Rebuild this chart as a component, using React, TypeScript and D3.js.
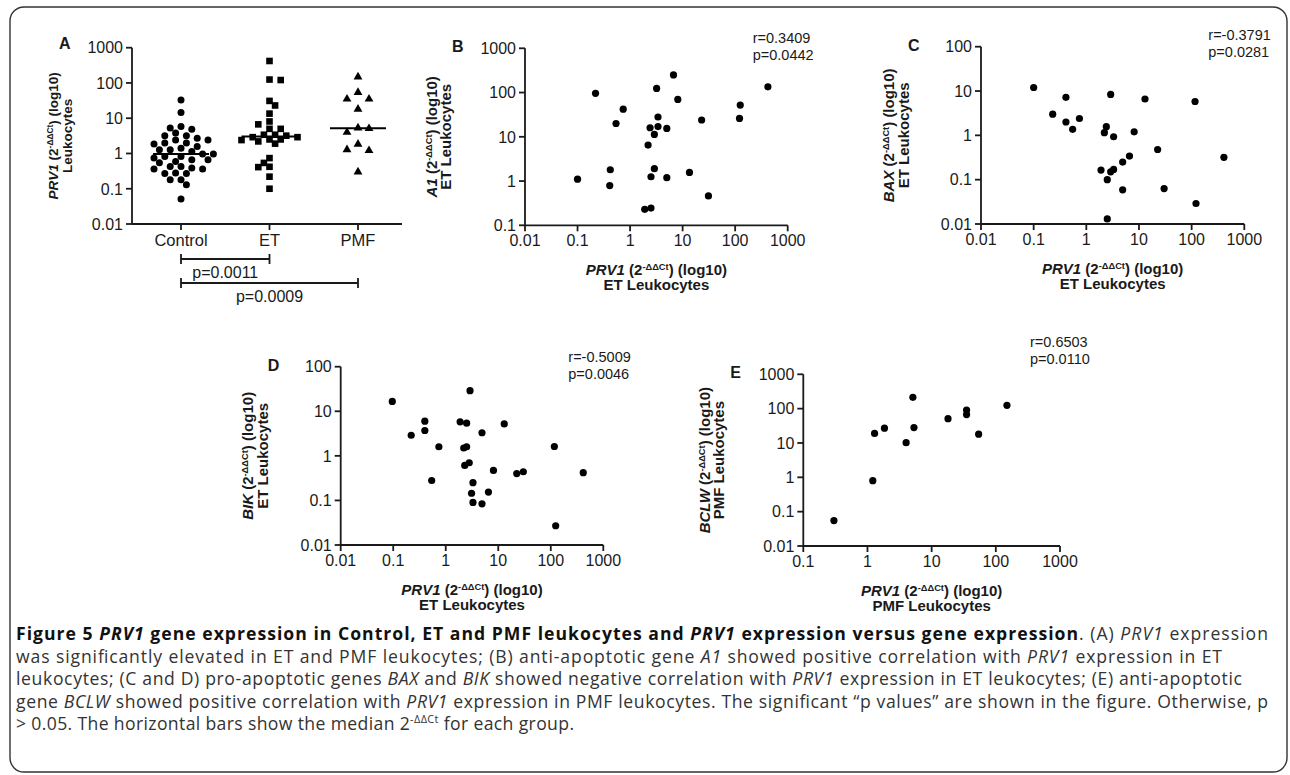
import React from "react";
import * as d3 from "d3";

// ---- data ----
const categories = ["Control", "ET", "PMF"];

const controlPrv1 = [
  33, 14.5, 5.8, 5.3, 4.9, 3.8, 3.2, 3.2, 2.7, 2.4, 2.4, 1.97, 1.97, 1.85, 1.58, 1.4, 1.27, 1.27, 1.14, 0.96,
  0.96, 0.82, 0.82, 0.75, 0.66, 0.66, 0.59, 0.55, 0.43, 0.43, 0.39, 0.36, 0.36, 0.28, 0.27, 0.27, 0.18, 0.18,
  0.13, 0.051,
];

// ET leukocytes: PRV1 vs A1
const bPrv1 = [0.1, 0.22, 0.42, 0.41, 0.54, 0.74, 1.9, 2.5, 2.2, 2.4, 2.9, 2.9, 2.5, 3.2, 3.4, 3.4, 5.0, 5.0, 6.7, 8.1, 13.5, 23, 31, 121, 125, 420];
const bA1 = [1.1, 96, 1.8, 0.79, 20, 42, 0.23, 0.245, 6.5, 16, 11.3, 1.9, 1.25, 124, 28, 17, 15.5, 1.19, 250, 70, 1.57, 24, 0.46, 26, 52, 135];

// ET leukocytes: PRV1 vs BAX
const cPrv1 = [0.1, 0.23, 0.41, 0.41, 0.55, 0.74, 1.9, 2.4, 2.2, 2.5, 2.5, 2.9, 2.9, 3.3, 3.3, 4.9, 4.9, 6.6, 8.1, 13, 22.6, 30, 116, 121, 410];
const cBax = [12, 3.0, 7.2, 2.0, 1.37, 2.4, 0.165, 1.57, 1.15, 0.1, 0.013, 8.4, 0.15, 0.93, 0.17, 0.25, 0.059, 0.34, 1.2, 6.6, 0.48, 0.063, 5.8, 0.029, 0.32];

// ET leukocytes: PRV1 vs BIK
const dPrv1 = [0.096, 0.22, 0.4, 0.4, 0.54, 0.74, 1.88, 2.5, 2.2, 2.5, 2.3, 2.8, 2.9, 3.3, 3.1, 3.3, 4.9, 4.9, 6.5, 8.1, 13, 22.5, 30, 117, 124, 415];
const dBik = [16.6, 2.9, 6.0, 3.7, 0.28, 1.6, 5.8, 5.4, 1.5, 1.6, 0.61, 0.7, 29, 0.25, 0.145, 0.09, 3.3, 0.084, 0.154, 0.47, 5.2, 0.4, 0.44, 1.62, 0.027, 0.42];

// PMF leukocytes: PRV1 vs BCLW
const ePrv1 = [0.3, 1.21, 1.29, 1.84, 4.0, 5.1, 5.3, 18, 35, 35, 54, 149];
const eBclw = [0.055, 0.8, 19, 27, 10.2, 214, 28, 51, 91, 67, 18, 125];

const columnValues = [controlPrv1, bPrv1, ePrv1];
const comparisons = [
  { from: "Control", to: "ET", label: "p=0.0011" },
  { from: "Control", to: "PMF", label: "p=0.0009" },
];

const ticks1000 = [0.1, 1, 10, 100, 1000];
const ticksA = [0.01, 0.1, 1, 10, 100, 1000];
const ticks100 = [0.01, 0.1, 1, 10, 100];

const FONT = "'Liberation Sans', Arial, sans-serif";
const INK = "#1a1a1a";
const AXW = 1.8;

// simple column scatter layout (Prism style): nearest free slot to the centre
function swarm(values: number[], y: (v: number) => number, diam: number, step: number) {
  const order = values.map((_, i) => i).sort((a, b) => values[b] - values[a]);
  const placed: { x: number; y: number }[] = [];
  const out: { dx: number; y: number }[] = new Array(values.length);
  order.forEach((i, n) => {
    const yy = y(values[i]);
    const sign = n % 2 === 0 ? 1 : -1;
    for (let k = 0; k < 60; k++) {
      const off = k === 0 ? 0 : (k % 2 === 1 ? sign : -sign) * Math.ceil(k / 2) * step;
      if (placed.every((p) => (p.x - off) ** 2 + (p.y - yy) ** 2 >= diam * diam)) {
        placed.push({ x: off, y: yy });
        out[i] = { dx: off, y: yy };
        break;
      }
    }
  });
  return out;
}

const Sup = () => (
  <tspan baselineShift="super" fontSize="62%">-ΔΔCt</tspan>
);

function AxisTitle({ gene }: { gene: string }) {
  return (
    <>
      <tspan fontStyle="italic">{gene}</tspan>
      <tspan> (2</tspan>
      <Sup />
      <tspan>) (log10)</tspan>
    </>
  );
}

function LogTicksY({ y, x, ticks }: any) {
  return (
    <g>
      {ticks.map((t: number) => (
        <g key={t}>
          <line x1={x - 6} x2={x} y1={y(t)} y2={y(t)} stroke={INK} strokeWidth={AXW} />
          <text x={x - 9} y={y(t)} dy="0.36em" textAnchor="end" fontSize={16} fontFamily={FONT} fill={INK}>
            {String(t)}
          </text>
        </g>
      ))}
    </g>
  );
}

function Scatter({ box, xTicks, yTicks, xs, ys, letter, gene, yLine2, xLine2, r, p, rp, titleOff }: any) {
  const x = d3.scaleLog().domain([xTicks[0], xTicks[xTicks.length - 1]]).range([box.left, box.right]);
  const y = d3.scaleLog().domain([yTicks[0], yTicks[yTicks.length - 1]]).range([box.bottom, box.top]);
  const cx = (box.left + box.right) / 2;
  const cy = (box.top + box.bottom) / 2;
  return (
    <g fontFamily={FONT} fill={INK}>
      <line x1={box.left} x2={box.right} y1={box.bottom} y2={box.bottom} stroke={INK} strokeWidth={AXW} />
      <line x1={box.left} x2={box.left} y1={box.top} y2={box.bottom} stroke={INK} strokeWidth={AXW} />
      {xTicks.map((t: number) => (
        <g key={t}>
          <line x1={x(t)} x2={x(t)} y1={box.bottom} y2={box.bottom + 6} stroke={INK} strokeWidth={AXW} />
          <text x={x(t)} y={box.bottom + 21} textAnchor="middle" fontSize={16}>{String(t)}</text>
        </g>
      ))}
      <LogTicksY y={y} x={box.left} ticks={yTicks} />
      {xs.map((v: number, i: number) => (
        <circle key={i} cx={x(v)} cy={y(ys[i])} r={3.6} fill="#000" />
      ))}
      <text x={box.left - 73} y={box.top + 4} fontSize={16} fontWeight="bold">{letter}</text>
      <text x={box.right + rp.dx} y={box.top + rp.dy} fontSize={14.5}>{r}</text>
      <text x={box.right + rp.dx} y={box.top + rp.dy + 17} fontSize={14.5}>{p}</text>
      <text x={cx} y={box.bottom + 50} textAnchor="middle" fontSize={15} fontWeight="bold">
        <AxisTitle gene="PRV1" />
      </text>
      <text x={cx} y={box.bottom + 65} textAnchor="middle" fontSize={15} fontWeight="bold">{xLine2}</text>
      <text transform={`translate(${box.left - titleOff[0]},${cy}) rotate(-90)`} textAnchor="middle" fontSize={15} fontWeight="bold">
        <AxisTitle gene={gene} />
      </text>
      <text transform={`translate(${box.left - titleOff[1]},${cy}) rotate(-90)`} textAnchor="middle" fontSize={15} fontWeight="bold">
        {yLine2}
      </text>
    </g>
  );
}

function PanelA() {
  const box = { left: 132, right: 402, top: 47.7, bottom: 224 };
  const x = d3.scalePoint<string>().domain(categories).range([181, 358]);
  const y = d3.scaleLog().domain([0.01, 1000]).range([box.bottom, box.top]);
  const cy = (box.top + box.bottom) / 2;
  const tri = d3.symbol().type(d3.symbolTriangle).size(34)()!;
  const spacing = [
    { diam: 7.0, step: 5.4 },
    { diam: 6.6, step: 5.6 },
    { diam: 8.8, step: 5.5 },
  ];
  return (
    <g fontFamily={FONT} fill={INK}>
      <line x1={box.left} x2={box.right} y1={box.bottom} y2={box.bottom} stroke={INK} strokeWidth={AXW} />
      <line x1={box.left} x2={box.left} y1={box.top} y2={box.bottom} stroke={INK} strokeWidth={AXW} />
      <LogTicksY y={y} x={box.left} ticks={ticksA} />
      {categories.map((c) => (
        <g key={c}>
          <line x1={x(c)} x2={x(c)} y1={box.bottom} y2={box.bottom + 6} stroke={INK} strokeWidth={AXW} />
          <text x={x(c)} y={box.bottom + 22} textAnchor="middle" fontSize={16.5}>{c}</text>
        </g>
      ))}
      {columnValues.map((vals, ci) => {
        const cxv = x(categories[ci])!;
        const pts = swarm(vals, y, spacing[ci].diam, spacing[ci].step);
        const med = d3.median(vals)!;
        return (
          <g key={ci}>
            {pts.map((pt, i) =>
              ci === 0 ? (
                <circle key={i} cx={cxv + pt.dx} cy={pt.y} r={3.5} fill="#000" />
              ) : ci === 1 ? (
                <rect key={i} x={cxv + pt.dx - 3.3} y={pt.y - 3.3} width={6.6} height={6.6} fill="#000" />
              ) : (
                <path key={i} d={tri} transform={`translate(${cxv + pt.dx},${pt.y})`} fill="#000" />
              )
            )}
            <line x1={cxv - 28} x2={cxv + 28} y1={y(med)} y2={y(med)} stroke="#000" strokeWidth={2} />
          </g>
        );
      })}
      {comparisons.map((c, i) => {
        const yb = box.bottom + 35 + i * 24;
        const x1 = x(c.from)!;
        const x2 = x(c.to)!;
        return (
          <g key={i} stroke={INK} strokeWidth={AXW}>
            <line x1={x1} x2={x2} y1={yb} y2={yb} />
            <line x1={x1} x2={x1} y1={yb - 5} y2={yb + 5} />
            <line x1={x2} x2={x2} y1={yb - 5} y2={yb + 5} />
            <text x={(x1 + x2) / 2} y={yb + 19} textAnchor="middle" fontSize={16} stroke="none" fill={INK}>{c.label}</text>
          </g>
        );
      })}
      <text x={box.left - 73} y={box.top + 1} fontSize={16} fontWeight="bold">A</text>
      <text transform={`translate(${box.left - 74},${cy}) rotate(-90)`} textAnchor="middle" fontSize={13.5} fontWeight="bold">
        <AxisTitle gene="PRV1" />
      </text>
      <text transform={`translate(${box.left - 60},${cy}) rotate(-90)`} textAnchor="middle" fontSize={13.5} fontWeight="bold">
        Leukocytes
      </text>
    </g>
  );
}

const CAP = "'Open Sans', 'Noto Sans', sans-serif";

function Caption() {
  const x0 = 16;
  const lh = 22.6;
  const y0 = 640;
  const fs = 17.6;
  return (
    <g fontFamily={CAP} fontSize={fs} fill="#333">
      <text x={x0} y={y0} textLength={1252} lengthAdjust="spacing">
        <tspan fontWeight="bold" fill="#111">Figure 5 </tspan>
        <tspan fontWeight="bold" fontStyle="italic" fill="#111">PRV1</tspan>
        <tspan fontWeight="bold" fill="#111"> gene expression in Control, ET and PMF leukocytes and </tspan>
        <tspan fontWeight="bold" fontStyle="italic" fill="#111">PRV1</tspan>
        <tspan fontWeight="bold" fill="#111"> expression versus gene expression</tspan>
        <tspan>. (A) </tspan>
        <tspan fontStyle="italic">PRV1</tspan>
        <tspan> expression</tspan>
      </text>
      <text x={x0} y={y0 + lh} textLength={1206} lengthAdjust="spacing">
        <tspan>was significantly elevated in ET and PMF leukocytes; (B) anti-apoptotic gene </tspan>
        <tspan fontStyle="italic">A1</tspan>
        <tspan> showed positive correlation with </tspan>
        <tspan fontStyle="italic">PRV1</tspan>
        <tspan> expression in ET</tspan>
      </text>
      <text x={x0} y={y0 + lh * 2} textLength={1226} lengthAdjust="spacing">
        <tspan>leukocytes; (C and D) pro-apoptotic genes </tspan>
        <tspan fontStyle="italic">BAX</tspan>
        <tspan> and </tspan>
        <tspan fontStyle="italic">BIK</tspan>
        <tspan> showed negative correlation with </tspan>
        <tspan fontStyle="italic">PRV1</tspan>
        <tspan> expression in ET leukocytes; (E) anti-apoptotic</tspan>
      </text>
      <text x={x0} y={y0 + lh * 3} textLength={1252} lengthAdjust="spacing">
        <tspan>gene </tspan>
        <tspan fontStyle="italic">BCLW</tspan>
        <tspan> showed positive correlation with </tspan>
        <tspan fontStyle="italic">PRV1</tspan>
        <tspan> expression in PMF leukocytes. The significant “p values” are shown in the figure. Otherwise, p</tspan>
      </text>
      <text x={x0} y={y0 + lh * 4} textLength={558} lengthAdjust="spacing">
        <tspan>{"> 0.05. The horizontal bars show the median 2"}</tspan>
        <tspan baselineShift="super" fontSize="62%">-ΔΔCt</tspan>
        <tspan> for each group.</tspan>
      </text>
    </g>
  );
}

export default function App() {
  return (
    <svg
      width={1290}
      height={775}
      style={{ position: "absolute", left: 0, top: 0, background: "#fff" }}
    >
      <rect x={10} y={7} width={1277} height={765} rx={14} fill="none" stroke="#333" strokeWidth={1.4} />
      <PanelA />
      <Scatter
        box={{ left: 525, right: 787.7, top: 48.3, bottom: 225.3 }}
        xTicks={ticksA} yTicks={ticks1000} xs={bPrv1} ys={bA1}
        letter="B" gene="A1" yLine2="ET Leukocytes" xLine2="ET Leukocytes"
        r="r=0.3409" p="p=0.0442" rp={{ dx: -35, dy: -5 }} titleOff={[88, 74]}
      />
      <Scatter
        box={{ left: 981, right: 1244.3, top: 46.7, bottom: 224 }}
        xTicks={ticksA} yTicks={ticks100} xs={cPrv1} ys={cBax}
        letter="C" gene="BAX" yLine2="ET Leukocytes" xLine2="ET Leukocytes"
        r="r=-0.3791" p="p=0.0281" rp={{ dx: -36, dy: -6.5 }} titleOff={[87, 72]}
      />
      <Scatter
        box={{ left: 340.7, right: 603.3, top: 366.7, bottom: 545 }}
        xTicks={ticksA} yTicks={ticks100} xs={dPrv1} ys={dBik}
        letter="D" gene="BIK" yLine2="ET Leukocytes" xLine2="ET Leukocytes"
        r="r=-0.5009" p="p=0.0046" rp={{ dx: -35, dy: -5 }} titleOff={[88, 73]}
      />
      <Scatter
        box={{ left: 803.3, right: 1060, top: 374.3, bottom: 546 }}
        xTicks={ticks1000} yTicks={ticksA} xs={ePrv1} ys={eBclw}
        letter="E" gene="BCLW" yLine2="PMF Leukocytes" xLine2="PMF Leukocytes"
        r="r=0.6503" p="p=0.0110" rp={{ dx: -30, dy: -27 }} titleOff={[93, 79]}
      />
      <Caption />
    </svg>
  );
}
